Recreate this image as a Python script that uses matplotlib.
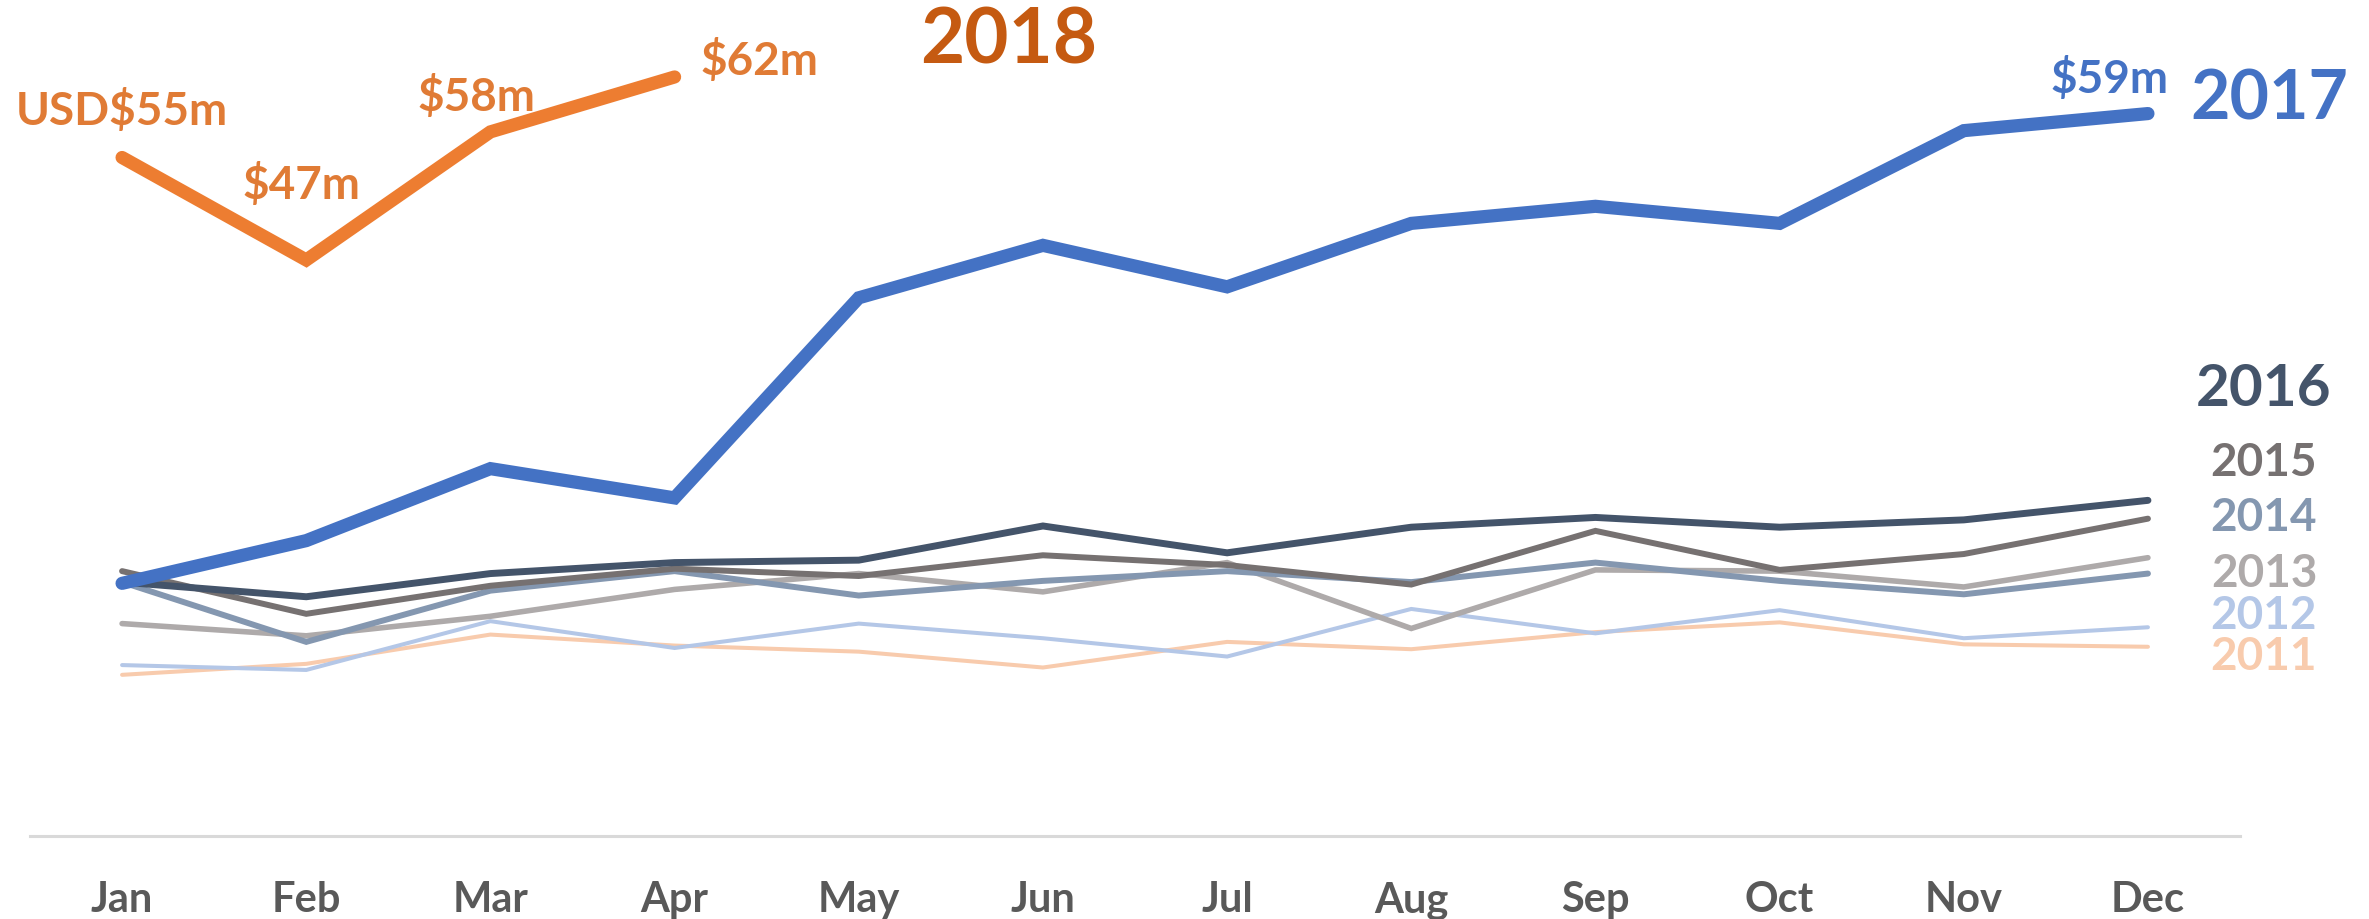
import matplotlib
matplotlib.use("Agg")
import matplotlib.pyplot as plt

plt.rcParams['font.family'] = ['Lato', 'DejaVu Sans']
plt.rcParams['font.weight'] = 'bold'

months = ["Jan", "Feb", "Mar", "Apr", "May", "Jun",
          "Jul", "Aug", "Sep", "Oct", "Nov", "Dec"]

# monthly revenue, USD millions
y2011 = [13.0, 13.9, 16.3, 15.4, 14.9, 13.6, 15.7, 15.1, 16.5, 17.3, 15.5, 15.3]
y2012 = [13.8, 13.4, 17.4, 15.2, 17.2, 16.0, 14.5, 18.4, 16.4, 18.3, 16.0, 16.9]
y2013 = [17.2, 16.2, 17.8, 20.0, 21.3, 19.8, 22.2, 16.8, 21.6, 21.5, 20.2, 22.6]
y2014 = [20.6, 15.7, 19.9, 21.5, 19.5, 20.7, 21.5, 20.6, 22.2, 20.7, 19.6, 21.3]
y2015 = [21.5, 18.0, 20.3, 21.7, 21.1, 22.8, 22.0, 20.4, 24.8, 21.6, 22.9, 25.8]
y2016 = [20.6, 19.4, 21.3, 22.2, 22.4, 25.2, 23.0, 25.1, 25.9, 25.1, 25.7, 27.3]
y2017 = [20.5, 24.0, 29.9, 27.5, 43.9, 48.2, 44.8, 50.0, 51.4, 50.0, 57.6, 59.0]
y2018 = [55.4, 47.0, 57.5, 62.0]

labels_2018 = ["USD$55m", "$47m", "$58m", "$62m"]

fig = plt.figure(figsize=(23.69, 9.2), dpi=100)
ax = fig.add_axes([0.01266, 0.0902, 0.9329, 0.9098])

x = list(range(12))

# background years, oldest at the bottom
old = [
    ("2011", y2011, "#F8CBAD", 2.9, -9),
    ("2012", y2012, "#B4C7E7", 2.9, 12),
    ("2013", y2013, "#AEAAAA", 4.0, -15),
    ("2014", y2014, "#8497B0", 4.3, 57),
    ("2015", y2015, "#767171", 4.3, 57),
    ("2016", y2016, "#44546A", 5.0, 112),
]
for name, vals, col, lw, dy in old:
    ax.plot(x, vals, color=col, lw=lw, solid_joinstyle='miter',
            solid_capstyle='round')
    size = 42 if name == "2016" else 33
    ax.annotate(name, (11, vals[-1]), xytext=(116, dy),
                textcoords='offset pixels', ha='center', va='center',
                color=col, fontsize=size, fontweight='bold',
                annotation_clip=False)

ax.plot(x, y2017, color="#4472C4", lw=9.5, solid_joinstyle='miter',
        solid_capstyle='round')
ax.plot(x[:4], y2018, color="#ED7D31", lw=9.5, solid_joinstyle='miter',
        solid_capstyle='round')

# 2018 data labels
offs = [(0, 47), (-5, 76), (-14, 36), (26, 17)]
for i, lab in enumerate(labels_2018):
    ax.annotate(lab, (i, y2018[i]), xytext=offs[i], textcoords='offset pixels',
                ha='left' if i == 3 else 'center', va='center',
                color="#E07B35", fontsize=33, fontweight='bold',
                annotation_clip=False)
ax.annotate("2018", (3, y2018[-1]), xytext=(334, 36), textcoords='offset pixels',
            ha='center', va='center', color="#C55A11", fontsize=55,
            fontweight='bold', annotation_clip=False)

ax.annotate("$59m", (11, y2017[-1]), xytext=(-38, 36), textcoords='offset pixels',
            ha='center', va='center', color="#4472C4", fontsize=33,
            fontweight='bold', annotation_clip=False)
ax.annotate("2017", (11, y2017[-1]), xytext=(42, 15), textcoords='offset pixels',
            ha='left', va='center', color="#4472C4", fontsize=49,
            fontweight='bold', annotation_clip=False)

ax.set_xlim(-0.5, 11.5)
ax.set_ylim(-0.21, 68.39)
ax.set_xticks(x)
ax.set_xticklabels(months)
ax.tick_params(axis='x', length=0, pad=32, labelsize=30, labelcolor="#595959")
ax.set_yticks([])
for s in ["top", "left", "right"]:
    ax.spines[s].set_visible(False)
ax.spines["bottom"].set_color("#D9D9D9")
ax.spines["bottom"].set_linewidth(2.2)

fig.savefig("out.png", dpi=100)
